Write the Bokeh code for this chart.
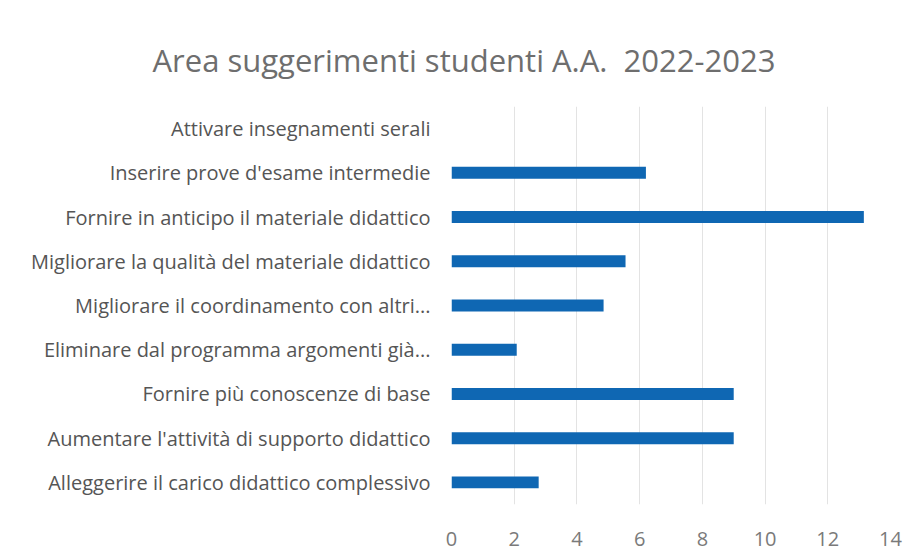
from bokeh.plotting import figure
from bokeh.models import Title, FactorRange
from bokeh.embed import file_html
from bokeh.resources import INLINE

categories = [
    "Attivare insegnamenti serali",
    "Inserire prove d'esame intermedie",
    "Fornire in anticipo il materiale didattico",
    "Migliorare la qualità del materiale didattico",
    "Migliorare il coordinamento con altri...",
    "Eliminare dal programma argomenti già...",
    "Fornire più conoscenze di base",
    "Aumentare l'attività di supporto didattico",
    "Alleggerire il carico didattico complessivo",
]
values = [0, 6.2, 13.15, 5.55, 4.85, 2.08, 9.0, 9.0, 2.78]
x_ticks = [0, 2, 4, 6, 8, 10, 12, 14]

FONT = "Open Sans"

p = figure(
    width=904, height=552,
    y_range=FactorRange(*list(reversed(categories))),
    x_range=(0, 14),
    output_backend="svg", toolbar_location=None,
    min_border_left=451, min_border_right=14,
    min_border_top=106, min_border_bottom=48,
)

p.hbar(y=categories, right=values, left=0, height=0.27,
       fill_color="#0F67B3", line_color=None)

p.add_layout(Title(text="Area suggerimenti studenti A.A.\u00a0 2022-2023",
                   align="left", offset=-299, standoff=52,
                   text_font=FONT, text_font_size="31px",
                   text_font_style="normal", text_color="#6E6E6E"), "above")

p.xaxis.ticker = x_ticks
p.xaxis.axis_line_color = None
p.xaxis.major_tick_line_color = None
p.xaxis.minor_tick_line_color = None
p.xaxis.major_label_text_font = FONT
p.xaxis.major_label_text_font_size = "20px"
p.xaxis.major_label_text_color = "#7A7A7A"
p.xaxis.major_label_standoff = 21

p.yaxis.axis_line_color = None
p.yaxis.major_tick_line_color = None
p.yaxis.minor_tick_line_color = None
p.yaxis.major_label_text_font = FONT
p.yaxis.major_label_text_font_size = "20px"
p.yaxis.major_label_text_color = "#555555"
p.yaxis.major_label_standoff = 15

p.xgrid.grid_line_color = "#E3E3E3"
p.xgrid.grid_line_width = 1
p.ygrid.grid_line_color = None
p.outline_line_color = None
p.background_fill_color = "white"
p.border_fill_color = "white"

open("out.html", "w").write(file_html(p, INLINE))
